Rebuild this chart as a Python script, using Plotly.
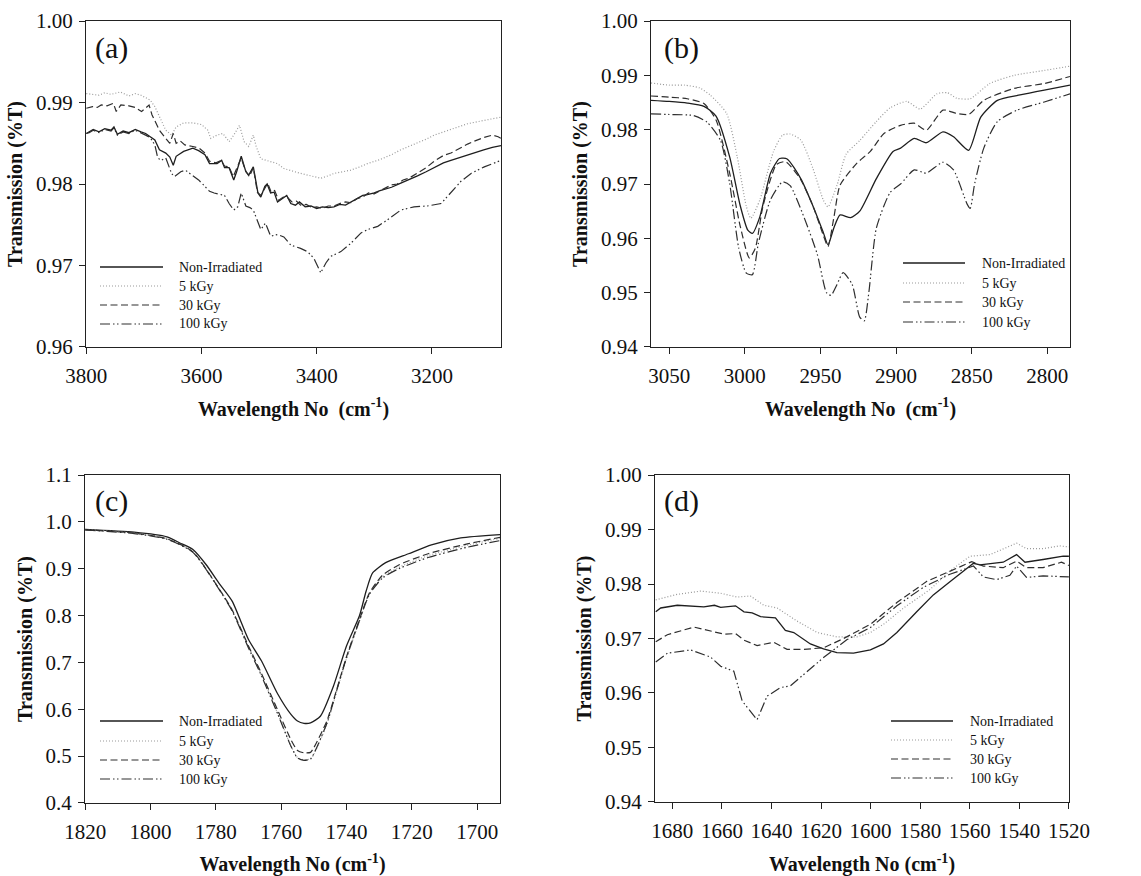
import plotly.graph_objects as go

W, H = 1141, 876
SERIES = ["Non-Irradiated", "5 kGy", "30 kGy", "100 kGy"]
FONT = "Liberation Serif"

# ---------- (a) 3800-3080 cm-1 ----------
A_NON_X = [3800, 3795, 3788, 3778, 3768, 3757, 3752, 3746, 3736, 3726, 3715, 3705, 3697, 3689, 3681, 3673,
           3662, 3655, 3649, 3644, 3631, 3615, 3605, 3594, 3586, 3573, 3565, 3560, 3552, 3544, 3539, 3531,
           3523, 3518, 3510, 3502, 3497, 3490, 3486, 3480, 3474, 3468, 3460, 3452, 3445, 3437, 3430, 3420,
           3410, 3400, 3390, 3380, 3370, 3360, 3350, 3340, 3330, 3320, 3312, 3300, 3290, 3280, 3270, 3254,
           3240, 3225, 3210, 3196, 3180, 3167, 3150, 3138, 3125, 3110, 3095, 3080]
A_NON_Y = [0.9862, 0.9864, 0.9867, 0.9864, 0.9868, 0.9866, 0.9870, 0.9861, 0.9865, 0.9863, 0.9867, 0.9864,
           0.9862, 0.9858, 0.9854, 0.9842, 0.9838, 0.9833, 0.9823, 0.9834, 0.9840, 0.9844, 0.9841, 0.9836,
           0.9825, 0.9825, 0.9829, 0.9820, 0.9820, 0.9805, 0.9815, 0.9834, 0.9815, 0.9811, 0.9821, 0.9789,
           0.9784, 0.9797, 0.9800, 0.9789, 0.9790, 0.9778, 0.9782, 0.9786, 0.9776, 0.9774, 0.9778, 0.9772,
           0.9773, 0.9770, 0.9772, 0.9771, 0.9772, 0.9775, 0.9774, 0.9778, 0.9781, 0.9786, 0.9787, 0.9789,
           0.9792, 0.9794, 0.9796, 0.9801, 0.9805, 0.9810, 0.9815, 0.9820, 0.9826, 0.9829, 0.9833, 0.9836,
           0.9839, 0.9842, 0.9845, 0.9847]

A_5_X = [3800, 3790, 3778, 3768, 3757, 3741, 3726, 3715, 3705, 3697, 3689, 3681, 3673, 3662, 3652, 3644,
         3631, 3615, 3600, 3589, 3584, 3573, 3563, 3552, 3544, 3534, 3526, 3518, 3510, 3505, 3497, 3486,
         3468, 3457, 3440, 3428, 3410, 3393, 3380, 3370, 3355, 3341, 3325, 3312, 3290, 3270, 3254, 3230,
         3210, 3196, 3170, 3150, 3138, 3110, 3080]
A_5_Y = [0.9911, 0.9910, 0.9909, 0.9912, 0.9910, 0.9913, 0.9908, 0.9911, 0.9909, 0.9906, 0.9903, 0.9895,
         0.9883, 0.9866, 0.9860, 0.9870, 0.9875, 0.9875, 0.9873, 0.9866, 0.9856, 0.9860, 0.9862, 0.9852,
         0.9860, 0.9872, 0.9852, 0.9846, 0.9860, 0.9846, 0.9831, 0.9829, 0.9825, 0.9819, 0.9815, 0.9813,
         0.9810, 0.9807, 0.9810, 0.9813, 0.9815, 0.9817, 0.9821, 0.9825, 0.9830, 0.9836, 0.9842, 0.9849,
         0.9855, 0.9860, 0.9866, 0.9871, 0.9874, 0.9878, 0.9882]

A_30_X = [3800, 3795, 3789, 3781, 3774, 3764, 3753, 3748, 3740, 3726, 3715, 3704, 3697, 3691, 3686, 3681,
          3673, 3662, 3655, 3649, 3644, 3637, 3629, 3615, 3604, 3594, 3586, 3575, 3566, 3560, 3552, 3545,
          3539, 3531, 3524, 3517, 3510, 3503, 3497, 3490, 3485, 3479, 3473, 3466, 3458, 3450, 3443, 3435,
          3428, 3418, 3408, 3400, 3390, 3380, 3370, 3360, 3350, 3340, 3330, 3320, 3310, 3300, 3290, 3280,
          3270, 3260, 3250, 3240, 3225, 3210, 3196, 3180, 3167, 3150, 3138, 3125, 3110, 3095, 3085, 3080]
A_30_Y = [0.9893, 0.9894, 0.9895, 0.9894, 0.9897, 0.9896, 0.9899, 0.9889, 0.9897, 0.9896, 0.9894, 0.9889,
          0.9894, 0.9897, 0.9885, 0.9877, 0.9866, 0.9856, 0.9850, 0.9862, 0.9850, 0.9853, 0.9848, 0.9846,
          0.9844, 0.9838, 0.9828, 0.9826, 0.9829, 0.9822, 0.9821, 0.9809, 0.9818, 0.9832, 0.9817, 0.9809,
          0.9820, 0.9790, 0.9786, 0.9795, 0.9801, 0.9790, 0.9792, 0.9780, 0.9784, 0.9783, 0.9778, 0.9779,
          0.9774, 0.9775, 0.9771, 0.9772, 0.9770, 0.9773, 0.9773, 0.9776, 0.9778, 0.9777, 0.9782, 0.9784,
          0.9789, 0.9788, 0.9792, 0.9795, 0.9799, 0.9800, 0.9805, 0.9807, 0.9813, 0.9820, 0.9828, 0.9835,
          0.9838, 0.9845, 0.9849, 0.9853, 0.9857, 0.9860, 0.9858, 0.9856]

A_100_X = [3800, 3795, 3788, 3778, 3768, 3757, 3752, 3746, 3736, 3726, 3715, 3705, 3697, 3689, 3681, 3676,
           3670, 3662, 3652, 3647, 3636, 3628, 3620, 3613, 3605, 3594, 3586, 3578, 3568, 3560, 3552, 3544,
           3537, 3531, 3523, 3516, 3510, 3505, 3497, 3489, 3480, 3468, 3457, 3445, 3436, 3428, 3416, 3405,
           3393, 3384, 3376, 3358, 3341, 3323, 3312, 3294, 3277, 3254, 3231, 3208, 3184, 3167, 3150, 3132,
           3109, 3080]
A_100_Y = [0.9862, 0.9863, 0.9866, 0.9863, 0.9867, 0.9865, 0.9869, 0.9860, 0.9864, 0.9862, 0.9866, 0.9863,
           0.9860, 0.9857, 0.9848, 0.9832, 0.9829, 0.9832, 0.9813, 0.9809, 0.9815, 0.9817, 0.9813, 0.9809,
           0.9805, 0.9797, 0.9791, 0.9789, 0.9787, 0.9786, 0.9776, 0.9768, 0.9772, 0.9789, 0.9773, 0.9771,
           0.9768, 0.9758, 0.9744, 0.9752, 0.9736, 0.9738, 0.9735, 0.9725, 0.9723, 0.9721, 0.9717, 0.9709,
           0.9691, 0.9703, 0.9711, 0.9717, 0.9727, 0.9740, 0.9744, 0.9748, 0.9756, 0.9768, 0.9772, 0.9773,
           0.9776, 0.9789, 0.9803, 0.9813, 0.9821, 0.9829]

# ---------- (b) 3062-2785 cm-1 ----------
B_NON_X = [3062, 3050, 3038, 3027, 3019, 3010, 3003, 2998, 2995, 2990, 2983, 2977, 2972, 2963, 2955, 2948,
           2945, 2941, 2937, 2930, 2924, 2913, 2902, 2897, 2888, 2880, 2869, 2862, 2852, 2844, 2833, 2818,
           2802, 2785]
B_NON_Y = [0.9854, 0.9852, 0.9849, 0.9843, 0.9825, 0.9750, 0.9660, 0.9615, 0.9609, 0.9640, 0.9720, 0.9747,
           0.9746, 0.9710, 0.9660, 0.9610, 0.9588, 0.9620, 0.9643, 0.9638, 0.9650, 0.9710, 0.9760, 0.9766,
           0.9784, 0.9776, 0.9796, 0.9787, 0.9762, 0.9823, 0.9854, 0.9864, 0.9873, 0.9882]

B_5_X = [3062, 3050, 3040, 3030, 3023, 3012, 3005, 2999, 2996, 2990, 2981, 2975, 2970, 2963, 2955, 2948,
         2945, 2939, 2933, 2924, 2913, 2904, 2893, 2884, 2873, 2866, 2860, 2851, 2838, 2822, 2802, 2785]
B_5_Y = [0.9886, 0.9882, 0.9882, 0.9877, 0.9864, 0.9830, 0.9750, 0.9659, 0.9637, 0.9671, 0.9760, 0.9790,
         0.9792, 0.9781, 0.9729, 0.9670, 0.9658, 0.9698, 0.9755, 0.9780, 0.9815, 0.9840, 0.9852, 0.9838,
         0.9866, 0.9868, 0.9858, 0.9857, 0.9885, 0.9900, 0.9909, 0.9917]

B_30_X = [3062, 3050, 3038, 3027, 3019, 3010, 3003, 2997, 2993, 2988, 2979, 2973, 2963, 2955, 2948, 2945,
          2941, 2937, 2926, 2917, 2908, 2897, 2888, 2880, 2869, 2860, 2852, 2842, 2822, 2802, 2785]
B_30_Y = [0.9862, 0.9860, 0.9857, 0.9848, 0.9818, 0.9720, 0.9622, 0.9564, 0.9582, 0.9659, 0.9736, 0.9741,
          0.9708, 0.9660, 0.9605, 0.9585, 0.9640, 0.9698, 0.9738, 0.9760, 0.9793, 0.9808, 0.9812, 0.9799,
          0.9836, 0.9830, 0.9828, 0.9854, 0.9876, 0.9885, 0.9898]

B_100_X = [3062, 3050, 3034, 3025, 3016, 3010, 3004, 2999, 2995, 2991, 2983, 2975, 2970, 2961, 2952, 2946,
           2943, 2939, 2935, 2929, 2924, 2921, 2918, 2913, 2904, 2897, 2888, 2880, 2869, 2862, 2853, 2851,
           2848, 2842, 2833, 2820, 2802, 2785]
B_100_Y = [0.9829, 0.9828, 0.9826, 0.9814, 0.9780, 0.9701, 0.9582, 0.9536, 0.9533, 0.9591, 0.9671, 0.9704,
           0.9697, 0.9640, 0.9570, 0.9500, 0.9495, 0.9515, 0.9537, 0.9515, 0.9455, 0.9448, 0.9500, 0.9619,
           0.9684, 0.9700, 0.9726, 0.9720, 0.9740, 0.9726, 0.9663, 0.9655, 0.9701, 0.9766, 0.9815, 0.9836,
           0.9851, 0.9866]

# ---------- (c) 1820-1693 cm-1 ----------
C_NON_X = [1820, 1805, 1795, 1791, 1787, 1783, 1779, 1775, 1770, 1766, 1761, 1757, 1755, 1753, 1751, 1748,
           1744, 1740, 1736, 1734, 1732, 1728, 1721, 1714, 1705, 1693]
C_NON_Y = [0.984, 0.978, 0.968, 0.955, 0.941, 0.909, 0.869, 0.831, 0.749, 0.703, 0.632, 0.589, 0.575, 0.570,
           0.571, 0.585, 0.649, 0.735, 0.800, 0.852, 0.891, 0.913, 0.932, 0.951, 0.966, 0.973]

C_IRR_X = [1820, 1805, 1795, 1787, 1779, 1775, 1770, 1766, 1761, 1757, 1755, 1753, 1751, 1750, 1746, 1743,
           1740, 1736, 1733, 1729, 1724, 1715, 1703, 1693]
C_5_Y = [0.984, 0.976, 0.964, 0.936, 0.858, 0.812, 0.733, 0.672, 0.590, 0.522, 0.497, 0.492, 0.494, 0.504,
         0.568, 0.638, 0.708, 0.789, 0.846, 0.882, 0.903, 0.928, 0.950, 0.965]
C_30_Y = [0.983, 0.976, 0.964, 0.936, 0.857, 0.812, 0.735, 0.676, 0.597, 0.535, 0.512, 0.507, 0.508, 0.518,
          0.575, 0.642, 0.712, 0.792, 0.848, 0.886, 0.908, 0.932, 0.953, 0.967]
C_100_Y = [0.983, 0.975, 0.963, 0.935, 0.856, 0.810, 0.731, 0.671, 0.589, 0.521, 0.496, 0.491, 0.494, 0.505,
           0.570, 0.640, 0.710, 0.790, 0.845, 0.880, 0.900, 0.924, 0.946, 0.960]

# ---------- (d) 1687-1520 cm-1 ----------
D_NON_X = [1686.7, 1684.7, 1678, 1672, 1667.3, 1663, 1660.5, 1654.5, 1651.1, 1647.8, 1644.4, 1638.4, 1634.4,
           1631, 1624.3, 1619, 1613.6, 1606.9, 1600.1, 1594.8, 1589.4, 1581.4, 1574.7, 1568, 1561.2, 1558.5,
           1555.9, 1546.5, 1541.1, 1537.7, 1530.4, 1522.3, 1520]
D_NON_Y = [0.9749, 0.9756, 0.9761, 0.9760, 0.9758, 0.9761, 0.9757, 0.9760, 0.9749, 0.9747, 0.9740, 0.9738,
           0.9715, 0.9711, 0.9690, 0.9681, 0.9674, 0.9673, 0.9679, 0.9690, 0.9711, 0.9749, 0.9780, 0.9804,
           0.9828, 0.9838, 0.9835, 0.9840, 0.9854, 0.9840, 0.9845, 0.9851, 0.9851]

D_5_X = [1686.7, 1678, 1668.6, 1660.5, 1653.8, 1648.5, 1643.1, 1637.7, 1629.7, 1621.6, 1613.6, 1605.5,
         1600.1, 1594.8, 1586.7, 1576, 1568, 1559.9, 1551.8, 1541.1, 1537.1, 1530.4, 1523.7, 1520]
D_5_Y = [0.9771, 0.9781, 0.9787, 0.9783, 0.9776, 0.9778, 0.9761, 0.9756, 0.9732, 0.9711, 0.9703, 0.9703,
         0.9711, 0.9726, 0.9756, 0.9790, 0.9824, 0.9851, 0.9854, 0.9875, 0.9865, 0.9865, 0.9870, 0.9868]

D_30_X = [1686.7, 1682, 1671.3, 1664.6, 1659.2, 1654.5, 1651.1, 1645.8, 1639.1, 1633.7, 1627, 1618.9,
          1610.9, 1600.1, 1589.4, 1577.3, 1568, 1559.2, 1554.5, 1546.5, 1541.1, 1537.1, 1530.4, 1523, 1520]
D_30_Y = [0.9694, 0.9707, 0.9721, 0.9714, 0.9708, 0.9709, 0.9697, 0.9687, 0.9693, 0.9680, 0.9680, 0.9683,
          0.9700, 0.9726, 0.9766, 0.9805, 0.9824, 0.9841, 0.9833, 0.9830, 0.9842, 0.9830, 0.9830, 0.9840,
          0.9834]

D_100_X = [1686.7, 1682, 1672.6, 1664.6, 1660.5, 1655.2, 1651.8, 1645.8, 1641.8, 1636.4, 1632.4, 1627,
           1619, 1609.5, 1600.1, 1589.4, 1578.7, 1568, 1558.5, 1554.5, 1549.2, 1543.8, 1541.1, 1537.1,
           1530.4, 1520]
D_100_Y = [0.9657, 0.9673, 0.9679, 0.9666, 0.9649, 0.9640, 0.9585, 0.9551, 0.9594, 0.9610, 0.9613, 0.9634,
           0.9665, 0.9698, 0.9720, 0.9760, 0.9794, 0.9818, 0.9833, 0.9813, 0.9808, 0.9816, 0.9833, 0.9812,
           0.9815, 0.9813]

# ---------- styling ----------
LINE = {
    "Non-Irradiated": dict(color="#1e1e1e", width=1.3, dash="solid"),
    "5 kGy": dict(color="#9a9a9a", width=1.2, dash="1px,2px"),
    "30 kGy": dict(color="#2e2e2e", width=1.2, dash="7px,3.5px"),
    "100 kGy": dict(color="#2e2e2e", width=1.2, dash="10px,3px,1.5px,2.5px,1.5px,3px"),
}


def px(x):
    return x / W


def py(y):
    return 1 - y / H


PANELS = [
    dict(tag="(a)", box=(86, 501, 21, 347),
         xr=[3800.5, 3080], xt=[3800, 3600, 3400, 3200],
         yr=[0.95999, 1.00001], yt=[0.96, 0.97, 0.98, 0.99, 1.00], fmt=".2f",
         data=[(A_NON_X, A_NON_Y), (A_5_X, A_5_Y), (A_30_X, A_30_Y), (A_100_X, A_100_Y)],
         shape="linear", label=(111, 48), xstand=14, ystand=8,
         xtext="Wavelength No&nbsp; (cm<sup>-1</sup>)",
         leg=(100, 163, 177, [267, 286, 305, 324])),
    dict(tag="(b)", box=(651, 1070, 21, 347),
         xr=[3062, 2785], xt=[3050, 3000, 2950, 2900, 2850, 2800],
         yr=[0.93999, 1.00001], yt=[0.94, 0.95, 0.96, 0.97, 0.98, 0.99, 1.00], fmt=".2f",
         data=[(B_NON_X, B_NON_Y), (B_5_X, B_5_Y), (B_30_X, B_30_Y), (B_100_X, B_100_Y)],
         shape="spline", label=(681, 48), xstand=14, ystand=8,
         xtext="Wavelength No&nbsp; (cm<sup>-1</sup>)",
         leg=(903, 965, 980, [263, 283, 302, 322])),
    dict(tag="(c)", box=(85, 500, 475, 803),
         xr=[1820.05, 1693], xt=[1820, 1800, 1780, 1760, 1740, 1720, 1700],
         yr=[0.3999, 1.1001], yt=[0.4, 0.5, 0.6, 0.7, 0.8, 0.9, 1.0, 1.1], fmt=".1f",
         data=[(C_NON_X, C_NON_Y), (C_IRR_X, C_5_Y), (C_IRR_X, C_30_Y), (C_IRR_X, C_100_Y)],
         shape="spline", label=(111, 501), xstand=16, ystand=7,
         xtext="Wavelength No (cm<sup>-1</sup>)",
         leg=(100, 163, 177, [721, 741, 760, 779])),
    dict(tag="(d)", box=(655, 1069, 475, 802),
         xr=[1687, 1519.95], xt=[1680, 1660, 1640, 1620, 1600, 1580, 1560, 1540, 1520],
         yr=[0.93999, 1.00001], yt=[0.94, 0.95, 0.96, 0.97, 0.98, 0.99, 1.00], fmt=".2f",
         data=[(D_NON_X, D_NON_Y), (D_5_X, D_5_Y), (D_30_X, D_30_Y), (D_100_X, D_100_Y)],
         shape="linear", label=(681, 501), xstand=16, ystand=8,
         xtext="Wavelength No (cm<sup>-1</sup>)",
         leg=(891, 953, 968, [721, 740, 759, 778])),
]

fig = go.Figure()
annotations = []
shapes = []
title_font = dict(family=FONT, size=20, color="#111")
axis_common = dict(showline=True, linecolor="#222", linewidth=1, mirror=True, ticks="outside",
                   ticklen=6, tickwidth=1, tickcolor="#222", showgrid=False, zeroline=False,
                   automargin=False, tickfont=dict(family=FONT, size=21, color="#111"))

for i, p in enumerate(PANELS, start=1):
    sfx = "" if i == 1 else str(i)
    x0, x1, y0, y1 = p["box"]
    fig.update_layout(**{
        f"xaxis{sfx}": dict(domain=[px(x0), px(x1)], range=p["xr"], tickvals=p["xt"],
                            anchor=f"y{sfx}", ticklabelstandoff=4,
                            title=dict(text=f"<b>{p['xtext']}</b>", font=title_font,
                                       standoff=p["xstand"]),
                            **axis_common),
        f"yaxis{sfx}": dict(domain=[py(y1), py(y0)], range=p["yr"], tickvals=p["yt"],
                            tickformat=p["fmt"], anchor=f"x{sfx}", ticklabelstandoff=2,
                            title=dict(text="<b>Transmission (%T)</b>", font=title_font,
                                       standoff=p["ystand"]),
                            **axis_common),
    })
    for name, (xs, ys) in zip(SERIES, p["data"]):
        st = LINE[name]
        line = dict(color=st["color"], width=st["width"], dash=st["dash"], shape=p["shape"])
        if p["shape"] == "spline":
            line["smoothing"] = 0.6
        fig.add_trace(go.Scatter(x=xs, y=ys, mode="lines", name=name, line=line,
                                 xaxis=f"x{sfx}", yaxis=f"y{sfx}", showlegend=False))

    # panel tag
    annotations.append(dict(text=p["tag"], x=px(p["label"][0]), y=py(p["label"][1]), xref="paper",
                            yref="paper", showarrow=False, xanchor="center", yanchor="middle",
                            font=dict(family=FONT, size=30, color="#111")))
    # key: line samples and series names
    lx0, lx1, tx, rows = p["leg"]
    for name, ry in zip(SERIES, rows):
        st = LINE[name]
        shapes.append(dict(type="line", xref="paper", yref="paper", x0=px(lx0), x1=px(lx1),
                           y0=py(ry), y1=py(ry),
                           line=dict(color=st["color"], width=st["width"], dash=st["dash"])))
        annotations.append(dict(text=name, x=px(tx), y=py(ry), xref="paper", yref="paper",
                                showarrow=False, xanchor="left", yanchor="middle",
                                font=dict(family=FONT, size=14, color="#111")))

fig.update_layout(width=W, height=H, margin=dict(l=0, r=0, t=0, b=0, autoexpand=False),
                  paper_bgcolor="white", plot_bgcolor="white",
                  font=dict(family=FONT),
                  annotations=annotations, shapes=shapes, showlegend=False)

fig.write_html("out.html")
